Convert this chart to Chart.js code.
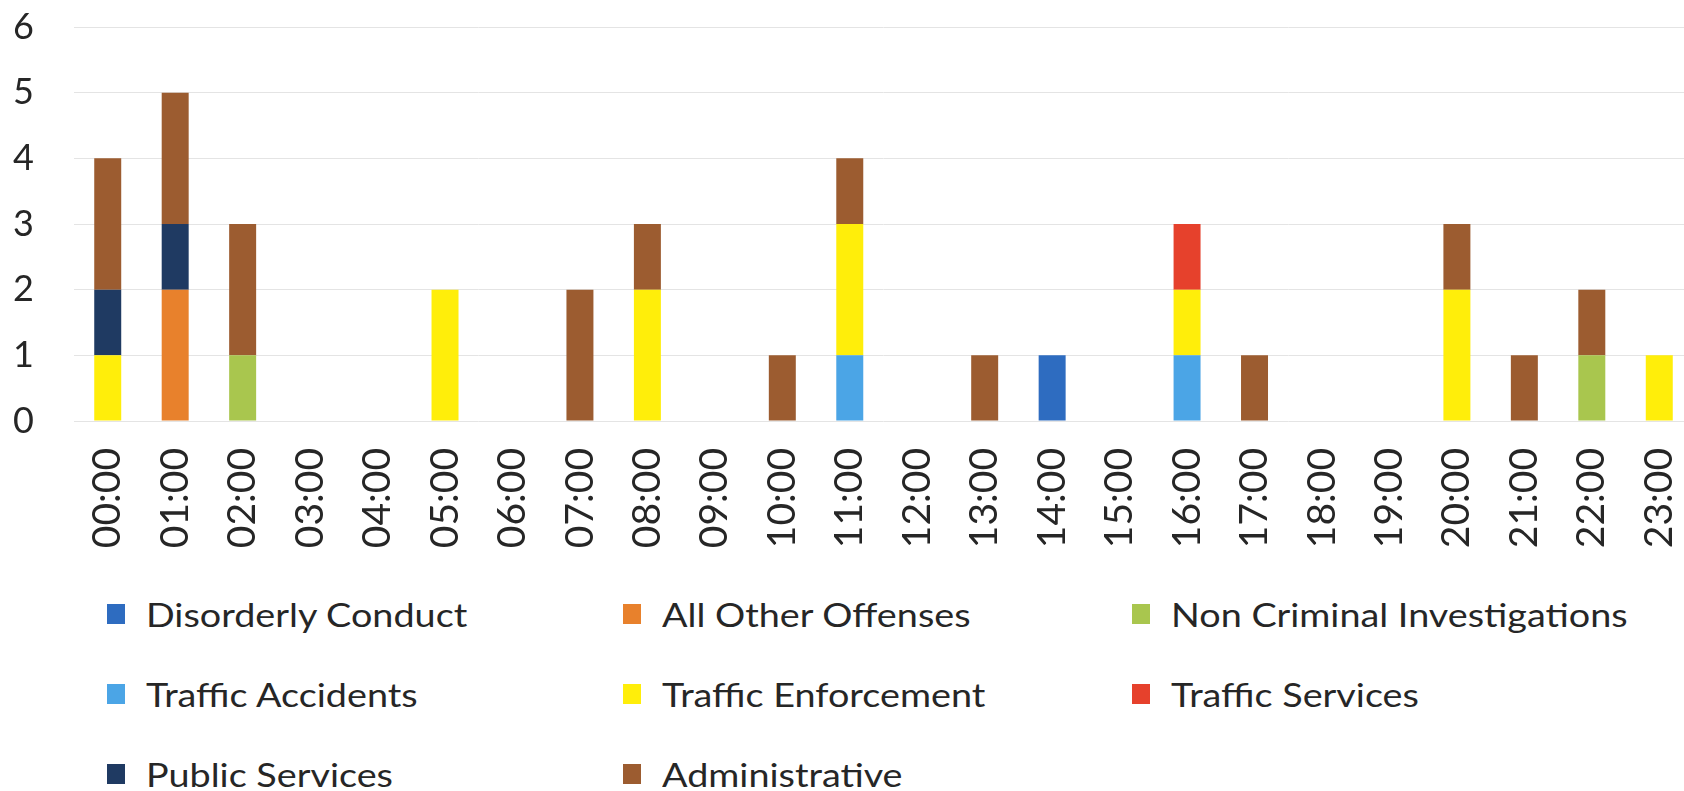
<!DOCTYPE html>
<html>
<head>
<meta charset="utf-8">
<script src="https://cdn.jsdelivr.net/npm/chart.js@4/dist/chart.umd.min.js"></script>
<style>
  html, body { margin: 0; padding: 0; background: #fff; overflow: hidden; }
  body { width: 1684px; height: 791px; position: relative; }
  #wrap { position: absolute; left: 0; top: 0; width: 1700px; height: 580px; }
  #legend {
    position: absolute; left: 107px; top: 592px;
    display: grid; grid-template-columns: 516px 509px 500px;
    grid-auto-rows: 80px;
    font-family: Lato, "Liberation Sans", sans-serif; font-size: 32px; color: #262626;
  }
  #legend .item { display: flex; align-items: center; height: 44px; white-space: nowrap; }
  #legend .box { width: 18px; height: 20px; margin-right: 21px; flex: none; }
  #legend .txt { display: inline-block; transform: scaleX(1.18); transform-origin: left center; }
</style>
</head>
<body>
<div id="wrap"><canvas id="myChart" width="1700" height="580"></canvas></div>
<div id="legend"></div>
<script>
// hourly categories
var hours = ['00:00', '01:00', '02:00', '03:00', '04:00', '05:00', '06:00', '07:00',
             '08:00', '09:00', '10:00', '11:00', '12:00', '13:00', '14:00', '15:00',
             '16:00', '17:00', '18:00', '19:00', '20:00', '21:00', '22:00', '23:00'];

// counts per hour, one array per call type
var disorderlyConduct  = [0,0,0,0,0,0,0,0,0,0,0,0,0,0,1,0,0,0,0,0,0,0,0,0];
var allOtherOffenses   = [0,2,0,0,0,0,0,0,0,0,0,0,0,0,0,0,0,0,0,0,0,0,0,0];
var nonCriminal        = [0,0,1,0,0,0,0,0,0,0,0,0,0,0,0,0,0,0,0,0,0,0,1,0];
var trafficAccidents   = [0,0,0,0,0,0,0,0,0,0,0,1,0,0,0,0,1,0,0,0,0,0,0,0];
var trafficEnforcement = [1,0,0,0,0,2,0,0,2,0,0,2,0,0,0,0,1,0,0,0,2,0,0,1];
var trafficServices    = [0,0,0,0,0,0,0,0,0,0,0,0,0,0,0,0,1,0,0,0,0,0,0,0];
var publicServices     = [1,1,0,0,0,0,0,0,0,0,0,0,0,0,0,0,0,0,0,0,0,0,0,0];
var administrative     = [2,2,2,0,0,0,0,2,1,0,1,1,0,1,0,0,0,1,0,0,1,1,1,0];

var yTicks = [0, 1, 2, 3, 4, 5, 6];

function series(label, data, color) {
    return { label: label, data: data, backgroundColor: color, borderWidth: 0 };
}

// drop the automatic label padding so the plot area sits where we put it
function noPadding(scale) {
    scale.paddingLeft = 0;
    scale.paddingRight = 0;
    scale.paddingTop = 0;
    scale.paddingBottom = 0;
}

var ctx = document.getElementById('myChart');

var myChart = new Chart(ctx, {
    type: 'bar',
    data: {
        labels: hours,
        datasets: [
            series('Disorderly Conduct', disorderlyConduct, '#2e6cc0'),
            series('All Other Offenses', allOtherOffenses, '#e8812c'),
            series('Non Criminal Investigations', nonCriminal, '#a9c64e'),
            series('Traffic Accidents', trafficAccidents, '#4ba5e6'),
            series('Traffic Enforcement', trafficEnforcement, '#ffee0a'),
            series('Traffic Services', trafficServices, '#e6412c'),
            series('Public Services', publicServices, '#1f3a62'),
            series('Administrative', administrative, '#9c5c30')
        ]
    },
    options: {
        responsive: false,
        animation: false,
        barPercentage: 0.4,
        categoryPercentage: 1,
        layout: { padding: { top: 27, right: 7, left: 0, bottom: 0 } },
        plugins: {
            legend: { display: false },
            tooltip: { enabled: false }
        },
        scales: {
            x: {
                stacked: true,
                grid: { display: false, drawTicks: false },
                border: { display: false },
                ticks: {
                    color: '#262626',
                    font: { family: 'Lato', size: 39 },
                    minRotation: 90, maxRotation: 90,
                    padding: 27,
                    autoSkip: false
                },
                afterFit: function(scale) {
                    scale.height = 159;
                    noPadding(scale);
                }
            },
            y: {
                stacked: true,
                min: 0, max: 6,
                afterBuildTicks: function(scale) {
                    scale.ticks = yTicks.map(function(v) { return { value: v }; });
                },
                grid: { color: '#e4e4e4', lineWidth: 1, drawTicks: false },
                border: { display: false },
                ticks: {
                    color: '#262626',
                    font: { family: 'Lato', size: 36 },
                    padding: 40
                },
                afterFit: function(scale) {
                    scale.width = 74;
                    noPadding(scale);
                }
            }
        }
    }
});

// Legend in three columns, built from the chart's datasets
var legendEl = document.getElementById('legend');
myChart.data.datasets.forEach(function(ds) {
    var item = document.createElement('div');
    item.className = 'item';
    var box = document.createElement('span');
    box.className = 'box';
    box.style.background = ds.backgroundColor;
    var txt = document.createElement('span');
    txt.className = 'txt';
    txt.textContent = ds.label;
    item.appendChild(box);
    item.appendChild(txt);
    legendEl.appendChild(item);
});
</script>
</body>
</html>
